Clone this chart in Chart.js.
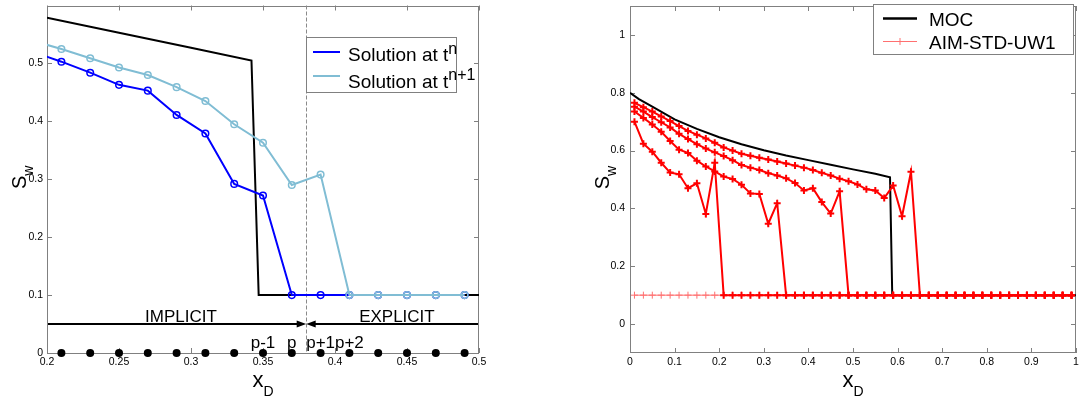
<!DOCTYPE html>
<html>
<head>
<meta charset="utf-8">
<script src="https://cdn.jsdelivr.net/npm/chart.js@4"></script>
<style>
  html, body { margin: 0; padding: 0; background: #fff; }
  #wrap { position: relative; width: 1082px; height: 402px; }
  #c1 { position: absolute; left: 0; top: 0; }
  #c2 { position: absolute; left: 540px; top: 0; }
</style>
</head>
<body>
<div id="wrap">
  <canvas id="c1" width="540" height="402"></canvas>
  <canvas id="c2" width="542" height="402"></canvas>
</div>
<script>
var FONT = "'Liberation Sans', Arial, sans-serif";
var AXIS = '#808080';
var BLUE = '#0000ff';
var LBLUE = '#80bdd4';
var RED = '#ff0000';
var PALE_RED = '#ff7070';

/* LEFT PANEL DATA */
var leftXTicks = [0.2, 0.25, 0.3, 0.35, 0.4, 0.45, 0.5];
var leftYTicks = [0, 0.1, 0.2, 0.3, 0.4, 0.5];
var mocLeftX = [0.2, 0.25, 0.3, 0.342, 0.347, 0.5];
var mocLeftY = [0.579, 0.553, 0.527, 0.505, 0.1, 0.1];
var cellX = [0.19, 0.21, 0.23, 0.25, 0.27, 0.29, 0.31, 0.33, 0.35, 0.37, 0.39, 0.41, 0.43, 0.45, 0.47, 0.49];
var solN  = [0.52, 0.503, 0.484, 0.463, 0.453, 0.411, 0.379, 0.292, 0.272, 0.1, 0.1, 0.1, 0.1, 0.1, 0.1, 0.1];
var solN1 = [0.539, 0.525, 0.509, 0.493, 0.480, 0.459, 0.435, 0.395, 0.363, 0.290, 0.308, 0.1, 0.1, 0.1, 0.1, 0.1];
var nodeX = [0.21, 0.23, 0.25, 0.27, 0.29, 0.31, 0.33, 0.35, 0.37, 0.39, 0.41, 0.43, 0.45, 0.47, 0.49];
var nodeY = [0, 0, 0, 0, 0, 0, 0, 0, 0, 0, 0, 0, 0, 0, 0];
var splitX = 0.38;
var arrowY = 0.05;
var zoneLabels = ['IMPLICIT', 'EXPLICIT'];
var zoneLabelX = [0.293, 0.443];
var zoneLabelY = 0.054;
var cellLabels = ['p-1', 'p', 'p+1', 'p+2'];
var cellLabelX = [0.35, 0.37, 0.39, 0.41];
var cellLabelY = 0.008;

/* RIGHT PANEL DATA */
var rightXTicks = [0, 0.1, 0.2, 0.3, 0.4, 0.5, 0.6, 0.7, 0.8, 0.9, 1];
var rightYTicks = [0, 0.2, 0.4, 0.6, 0.8, 1];
var mocX = [0, 0.02, 0.05, 0.1, 0.15, 0.2, 0.25, 0.3, 0.35, 0.4, 0.45, 0.5, 0.55, 0.583, 0.588, 1];
var mocY = [0.80, 0.778, 0.752, 0.708, 0.675, 0.646, 0.622, 0.601, 0.583, 0.567, 0.551, 0.535, 0.520, 0.508, 0.1, 0.1];
var xCells = [0.01, 0.03, 0.05, 0.07, 0.09, 0.11, 0.13, 0.15, 0.17, 0.19,
              0.21, 0.23, 0.25, 0.27, 0.29, 0.31, 0.33, 0.35, 0.37, 0.39,
              0.41, 0.43, 0.45, 0.47, 0.49, 0.51, 0.53, 0.55, 0.57, 0.59,
              0.61, 0.63, 0.65, 0.67, 0.69, 0.71, 0.73, 0.75, 0.77, 0.79,
              0.81, 0.83, 0.85, 0.87, 0.89, 0.91, 0.93, 0.95, 0.97, 0.99];
var aimBase = [0.1, 0.1, 0.1, 0.1, 0.1, 0.1, 0.1, 0.1, 0.1, 0.1,
               0.1, 0.1, 0.1, 0.1, 0.1, 0.1, 0.1, 0.1, 0.1, 0.1,
               0.1, 0.1, 0.1, 0.1, 0.1, 0.1, 0.1, 0.1, 0.1, 0.1,
               0.1, 0.1, 0.1, 0.1, 0.1, 0.1, 0.1, 0.1, 0.1, 0.1,
               0.1, 0.1, 0.1, 0.1, 0.1, 0.1, 0.1, 0.1, 0.1, 0.1];
var aim1 = [0.765, 0.750, 0.735, 0.718, 0.702, 0.685, 0.668, 0.655, 0.642, 0.627,
            0.611, 0.600, 0.589, 0.582, 0.575, 0.569, 0.562, 0.555, 0.548, 0.541,
            0.533, 0.523, 0.514, 0.503, 0.494, 0.483, 0.466, 0.462, 0.436, 0.479,
            0.373, 0.527, 0.1, 0.1, 0.1, 0.1, 0.1, 0.1, 0.1, 0.1,
            0.1, 0.1, 0.1, 0.1, 0.1, 0.1, 0.1, 0.1, 0.1, 0.1];
var aim2 = [0.752, 0.735, 0.716, 0.698, 0.680, 0.658, 0.640, 0.622, 0.607, 0.594,
            0.581, 0.567, 0.550, 0.541, 0.533, 0.522, 0.514, 0.504, 0.488, 0.462,
            0.470, 0.422, 0.382, 0.459, 0.1, 0.1, 0.1, 0.1, 0.1, 0.1,
            0.1, 0.1, 0.1, 0.1, 0.1, 0.1, 0.1, 0.1, 0.1, 0.1,
            0.1, 0.1, 0.1, 0.1, 0.1, 0.1, 0.1, 0.1, 0.1, 0.1];
var aim3 = [0.735, 0.713, 0.690, 0.665, 0.633, 0.603, 0.592, 0.565, 0.545, 0.528,
            0.510, 0.502, 0.482, 0.452, 0.450, 0.347, 0.418, 0.1, 0.1, 0.1,
            0.1, 0.1, 0.1, 0.1, 0.1, 0.1, 0.1, 0.1, 0.1, 0.1,
            0.1, 0.1, 0.1, 0.1, 0.1, 0.1, 0.1, 0.1, 0.1, 0.1,
            0.1, 0.1, 0.1, 0.1, 0.1, 0.1, 0.1, 0.1, 0.1, 0.1];
var aim4 = [0.700, 0.624, 0.596, 0.558, 0.524, 0.518, 0.470, 0.487, 0.381, 0.558,
            0.1, 0.1, 0.1, 0.1, 0.1, 0.1, 0.1, 0.1, 0.1, 0.1,
            0.1, 0.1, 0.1, 0.1, 0.1, 0.1, 0.1, 0.1, 0.1, 0.1,
            0.1, 0.1, 0.1, 0.1, 0.1, 0.1, 0.1, 0.1, 0.1, 0.1,
            0.1, 0.1, 0.1, 0.1, 0.1, 0.1, 0.1, 0.1, 0.1, 0.1];


function pts(xs, ys) {
  return xs.map(function (x, i) { return { x: x, y: ys[i] }; });
}

function fmt(v) {
  return String(+Number(v).toFixed(2));
}

// draws pieces of text one after another (for sub/superscripts)
function drawRich(ctx, parts, x, y, align) {
  var w = 0;
  parts.forEach(function (p) {
    ctx.font = p.size + 'px ' + FONT;
    p.w = ctx.measureText(p.t).width;
    w += p.w;
  });
  var cx = align == 'center' ? x - w / 2 : x;
  ctx.textAlign = 'left';
  ctx.textBaseline = 'alphabetic';
  parts.forEach(function (p) {
    ctx.font = p.size + 'px ' + FONT;
    ctx.fillText(p.t, cx, y + (p.dy || 0));
    cx += p.w;
  });
}

function axisTitles(chart) {
  var ctx = chart.ctx, a = chart.chartArea;
  ctx.save();
  ctx.fillStyle = '#000';
  drawRich(ctx, [{ t: 'x', size: 22 }, { t: 'D', size: 14, dy: 9 }], (a.left + a.right) / 2, a.bottom + 33.5, 'center');
  ctx.translate(a.left - 21, (a.top + a.bottom) / 2 - 2);
  ctx.rotate(-Math.PI / 2);
  drawRich(ctx, [{ t: 'S', size: 20 }, { t: 'w', size: 14, dy: 7 }], 0, 0, 'center');
  ctx.restore();
}

/* MATLAB style box with inward ticks, drawn under the data */
var boxTicks = {
  id: 'boxTicks',
  beforeDatasetsDraw: function (chart) {
    var ctx = chart.ctx, a = chart.chartArea, x = chart.scales.x, y = chart.scales.y;
    ctx.save();
    ctx.strokeStyle = AXIS;
    ctx.lineWidth = 1;
    ctx.setLineDash([]);
    ctx.strokeRect(Math.round(a.left) + 0.5, Math.round(a.top) + 0.5, Math.round(a.right - a.left) - 1, Math.round(a.bottom - a.top) - 1);
    ctx.beginPath();
    x.ticks.forEach(function (t) {
      var px = Math.round(x.getPixelForValue(t.value)) + 0.5;
      ctx.moveTo(px, a.bottom); ctx.lineTo(px, a.bottom - 5);
      ctx.moveTo(px, a.top); ctx.lineTo(px, a.top + 5);
    });
    y.ticks.forEach(function (t) {
      var py = Math.round(y.getPixelForValue(t.value)) + 0.5;
      ctx.moveTo(a.left, py); ctx.lineTo(a.left + 5, py);
      ctx.moveTo(a.right, py); ctx.lineTo(a.right - 5, py);
    });
    ctx.stroke();
    ctx.restore();
  }
};

function arrow(ctx, x0, x1, yy) {
  var dir = x1 > x0 ? 1 : -1;
  ctx.beginPath();
  ctx.moveTo(x0, yy);
  ctx.lineTo(x1 - dir * 8, yy);
  ctx.stroke();
  ctx.beginPath();
  ctx.moveTo(x1, yy);
  ctx.lineTo(x1 - dir * 9.5, yy - 3.5);
  ctx.lineTo(x1 - dir * 9.5, yy + 3.5);
  ctx.closePath();
  ctx.fill();
}

/* left panel: split line, arrows, labels, legend */
var leftDecor = {
  id: 'leftDecor',
  beforeDatasetsDraw: function (chart) {
    var ctx = chart.ctx, a = chart.chartArea, x = chart.scales.x;
    var px = Math.round(x.getPixelForValue(splitX)) + 0.5;
    ctx.save();
    ctx.strokeStyle = '#8a8a8a';
    ctx.lineWidth = 1;
    ctx.setLineDash([4, 2]);
    ctx.beginPath();
    ctx.moveTo(px, a.top);
    ctx.lineTo(px, a.bottom);
    ctx.stroke();
    ctx.restore();
  },
  afterDraw: function (chart) {
    var ctx = chart.ctx, x = chart.scales.x, y = chart.scales.y;
    ctx.save();
    ctx.strokeStyle = '#000';
    ctx.fillStyle = '#000';
    ctx.lineWidth = 2;
    var ay = y.getPixelForValue(arrowY);
    arrow(ctx, x.getPixelForValue(x.min) + 1, x.getPixelForValue(splitX), ay);
    arrow(ctx, x.getPixelForValue(x.max) - 1, x.getPixelForValue(splitX), ay);

    ctx.textAlign = 'center';
    ctx.textBaseline = 'alphabetic';
    ctx.font = '17px ' + FONT;
    zoneLabels.forEach(function (t, i) {
      ctx.fillText(t, x.getPixelForValue(zoneLabelX[i]), y.getPixelForValue(zoneLabelY));
    });
    cellLabels.forEach(function (t, i) {
      ctx.fillText(t, x.getPixelForValue(cellLabelX[i]), y.getPixelForValue(cellLabelY));
    });

    // legend
    ctx.fillStyle = '#fff';
    ctx.fillRect(306, 37, 151, 55);
    ctx.strokeStyle = AXIS;
    ctx.lineWidth = 1;
    ctx.strokeRect(306.5, 37.5, 150, 55);
    ctx.lineWidth = 2;
    ctx.strokeStyle = BLUE;
    ctx.beginPath(); ctx.moveTo(313, 52); ctx.lineTo(340, 52); ctx.stroke();
    ctx.strokeStyle = LBLUE;
    ctx.beginPath(); ctx.moveTo(313, 76); ctx.lineTo(340, 76); ctx.stroke();
    ctx.fillStyle = '#000';
    drawRich(ctx, [{ t: 'Solution at t', size: 19 }, { t: 'n', size: 16, dy: -7 }], 348, 60.5, 'left');
    drawRich(ctx, [{ t: 'Solution at t', size: 19 }, { t: 'n+1', size: 16, dy: -8.5 }], 348, 88, 'left');
    ctx.restore();
    axisTitles(chart);
  }
};

/* right panel: legend */
var rightDecor = {
  id: 'rightDecor',
  afterDraw: function (chart) {
    var ctx = chart.ctx;
    ctx.save();
    ctx.fillStyle = '#fff';
    ctx.fillRect(333, 4, 201, 50);
    ctx.strokeStyle = AXIS;
    ctx.lineWidth = 1;
    ctx.strokeRect(333.5, 4.5, 200, 50);
    ctx.strokeStyle = '#000';
    ctx.lineWidth = 2.5;
    ctx.beginPath(); ctx.moveTo(343, 18.5); ctx.lineTo(377, 18.5); ctx.stroke();
    ctx.strokeStyle = PALE_RED;
    ctx.lineWidth = 1;
    ctx.beginPath();
    ctx.moveTo(343, 41.5); ctx.lineTo(377, 41.5);
    ctx.moveTo(360, 38); ctx.lineTo(360, 45);
    ctx.stroke();
    ctx.fillStyle = '#000';
    ctx.font = '19px ' + FONT;
    ctx.textAlign = 'left';
    ctx.textBaseline = 'alphabetic';
    ctx.fillText('MOC', 389, 26);
    ctx.fillText('AIM-STD-UW1', 389, 48.5);
    ctx.restore();
    axisTitles(chart);
  }
};

function scaleOpts(min, max, tickList, size, pad) {
  return {
    type: 'linear',
    min: min,
    max: max,
    afterBuildTicks: function (s) {
      s.ticks = tickList.map(function (v) { return { value: v }; });
    },
    afterFit: function (s) {
      if (s.isHorizontal()) { s.height = size; } else { s.width = size; }
      s.paddingLeft = 0; s.paddingRight = 0; s.paddingTop = 0; s.paddingBottom = 0;
    },
    grid: { display: false, drawTicks: false },
    border: { display: false },
    ticks: {
      autoSkip: false, maxRotation: 0, padding: pad, color: '#000',
      font: { size: 10.5, family: FONT },
      callback: function (v) { return fmt(v); }
    }
  };
}

new Chart(document.getElementById('c1'), {
  type: 'scatter',
  data: {
    datasets: [
      { data: pts(mocLeftX, mocLeftY), showLine: true, borderColor: '#000', borderWidth: 2, pointRadius: 0, order: 3, clip: 0 },
      { data: pts(cellX, solN), showLine: true, borderColor: BLUE, borderWidth: 2, pointRadius: 3.3, pointBorderWidth: 1.5,
        pointBorderColor: BLUE, pointBackgroundColor: 'rgba(0,0,0,0)', order: 2, clip: 0 },
      { data: pts(cellX, solN1), showLine: true, borderColor: LBLUE, borderWidth: 2, pointRadius: 3.3, pointBorderWidth: 1.5,
        pointBorderColor: LBLUE, pointBackgroundColor: 'rgba(0,0,0,0)', order: 1, clip: 0 },
      { data: pts(nodeX, nodeY), showLine: false, pointRadius: 4, pointBorderWidth: 0, pointBackgroundColor: '#000', order: 0, clip: false }
    ]
  },
  options: {
    responsive: false,
    animation: false,
    events: [],
    layout: { padding: { left: 0, top: 0, right: 61, bottom: 0 } },
    plugins: { legend: { display: false }, tooltip: { enabled: false } },
    scales: {
      x: scaleOpts(0.2, 0.5, leftXTicks, 49, 3),
      y: scaleOpts(0, 0.6, leftYTicks, 47, 4)
    }
  },
  plugins: [boxTicks, leftDecor]
});

function aimSet(ys, ord) {
  return { data: pts(xCells, ys), showLine: true, borderColor: RED, borderWidth: 2, pointStyle: 'cross', pointRadius: 3.5,
    pointBorderWidth: 2, pointBorderColor: RED, order: ord, clip: 0 };
}

new Chart(document.getElementById('c2'), {
  type: 'scatter',
  data: {
    datasets: [
      { data: pts(mocX, mocY), showLine: true, borderColor: '#000', borderWidth: 2, pointRadius: 0, order: 9, clip: 0 },
      { data: pts(xCells, aimBase), showLine: true, borderColor: PALE_RED, borderWidth: 1, pointStyle: 'cross', pointRadius: 3.5,
        pointBorderWidth: 1, pointBorderColor: PALE_RED, order: 8, clip: 0 },
      aimSet(aim1, 1),
      aimSet(aim2, 2),
      aimSet(aim3, 3),
      aimSet(aim4, 4)
    ]
  },
  options: {
    responsive: false,
    animation: false,
    events: [],
    layout: { padding: { left: 0, top: 1, right: 4, bottom: 0 } },
    plugins: { legend: { display: false }, tooltip: { enabled: false } },
    scales: {
      x: scaleOpts(0, 1, rightXTicks, 49, 3),
      y: scaleOpts(-0.1, 1.1, rightYTicks, 90, 5)
    }
  },
  plugins: [boxTicks, rightDecor]
});
</script>
</body>
</html>
